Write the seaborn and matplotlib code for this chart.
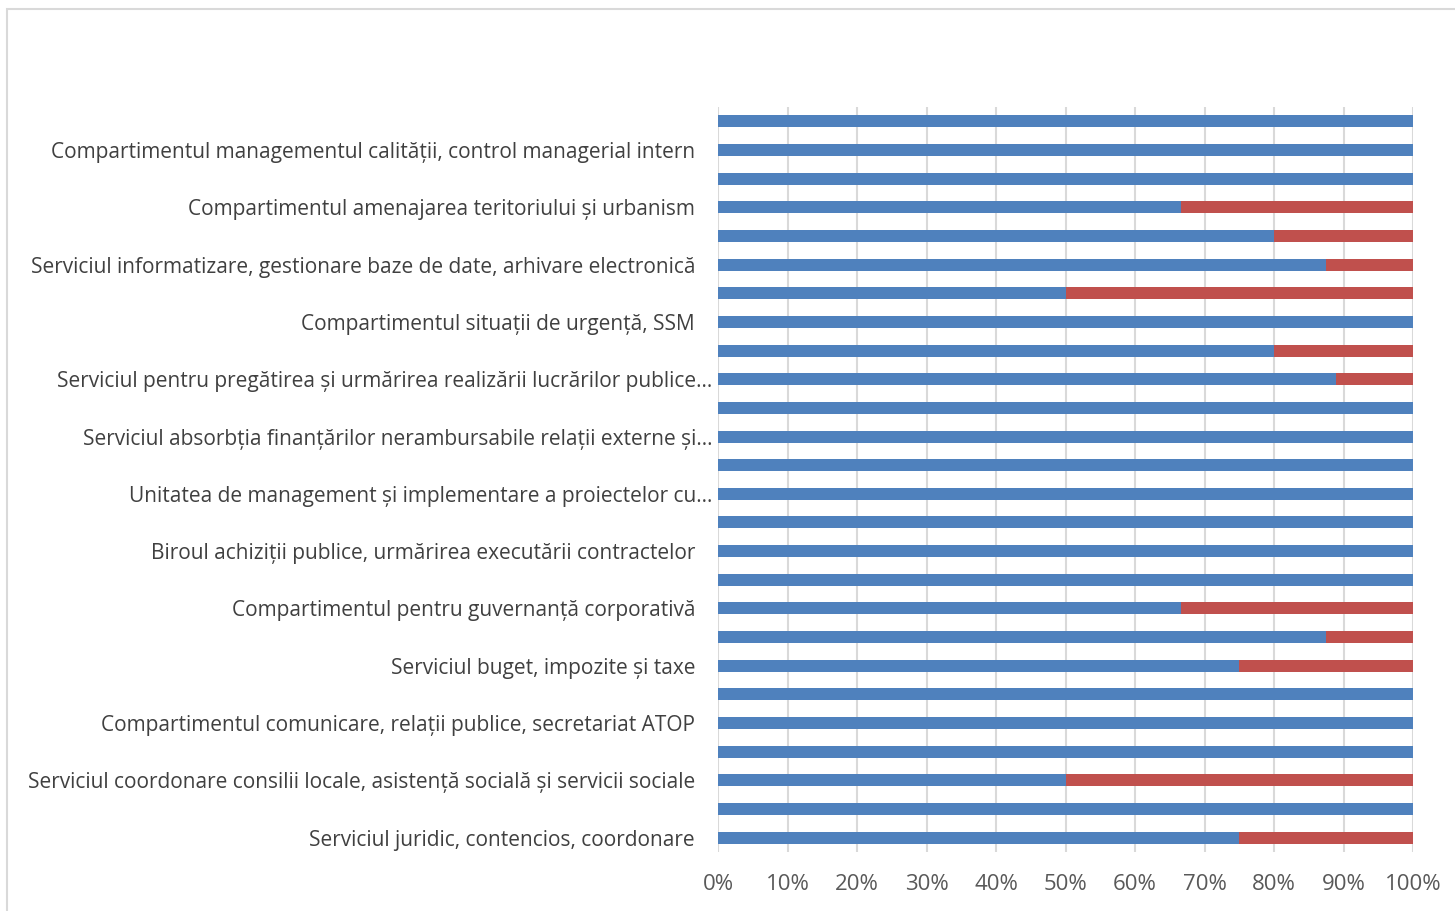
import matplotlib
matplotlib.use("Agg")
import matplotlib.pyplot as plt
import matplotlib.transforms as mtransforms
import seaborn as sns
import pandas as pd
from matplotlib.patches import Rectangle
from matplotlib.ticker import PercentFormatter

# date, de sus in jos
etichete = [
    "",
    "Compartimentul managementul calității, control managerial intern",
    "",
    "Compartimentul amenajarea teritoriului și urbanism",
    "",
    "Serviciul informatizare, gestionare baze de date, arhivare electronică",
    "",
    "Compartimentul situații de urgență, SSM",
    "",
    "Serviciul pentru pregătirea și urmărirea realizării lucrărilor publice…",
    "",
    "Serviciul absorbția finanțărilor nerambursabile relații externe și…",
    "",
    "Unitatea de management și implementare a proiectelor cu…",
    "",
    "Biroul achiziții publice, urmărirea executării contractelor",
    "",
    "Compartimentul pentru guvernanță corporativă",
    "",
    "Serviciul buget, impozite și taxe",
    "",
    "Compartimentul comunicare, relații publice, secretariat ATOP",
    "",
    "Serviciul coordonare consilii locale, asistență socială și servicii sociale",
    "",
    "Serviciul juridic, contencios, coordonare",
]
serie_albastra = [100, 100, 100, 66.67, 80, 87.5, 50, 100, 80, 88.9, 100, 100, 100,
                  100, 100, 100, 100, 66.67, 87.5, 75, 100, 100, 100, 50, 100, 75]
serie_rosie = [100 - v for v in serie_albastra]

df = pd.DataFrame({
    "cat": [str(i) for i in range(len(etichete))],
    "albastru": serie_albastra,
    "rosu": serie_rosie,
})
df["total"] = df["albastru"] + df["rosu"]

sns.set_style("white")
plt.rcParams["font.family"] = ["Open Sans", "DejaVu Sans"]

fig = plt.figure(figsize=(14.55, 9.11), dpi=100)
ax = fig.add_axes([718 / 1455, 1 - 852 / 911, 695 / 1455, 745 / 911])

sns.barplot(data=df, y="cat", x="total", color="#C0504D", width=0.42,
            saturation=1, edgecolor="none", ax=ax, orient="h")
sns.barplot(data=df, y="cat", x="albastru", color="#4F81BD", width=0.42,
            saturation=1, edgecolor="none", ax=ax, orient="h")

ax.set_xlim(0, 100)
ax.set_ylim(len(etichete) - 0.5, -0.5)
ax.set_xticks(range(0, 101, 10))
ax.xaxis.set_major_formatter(PercentFormatter(decimals=0))
ax.set_yticks(range(len(etichete)))
ax.set_yticklabels(etichete)
ax.set_xlabel("")
ax.set_ylabel("")
ax.grid(axis="x", color="#D9D9D9", linewidth=1.5)
ax.set_axisbelow(True)
for s in ax.spines.values():
    s.set_visible(False)
ax.tick_params(axis="y", length=0, pad=16.5, labelsize=15, labelcolor="#404040")
ax.tick_params(axis="x", length=0, pad=16, labelsize=16, labelcolor="#595959")

# etichetele trunchiate ies putin mai la dreapta, ca in Excel
deplasare = mtransforms.ScaledTranslation(17 / 100, 0, fig.dpi_scale_trans)
for t in ax.get_yticklabels():
    if t.get_text().endswith("…"):
        t.set_transform(t.get_transform() + deplasare)

fig.patches.append(Rectangle((7 / 1455, -0.05), 1.1, 1 - 9 / 911 + 0.05,
                             transform=fig.transFigure, fill=False,
                             edgecolor="#D9D9D9", linewidth=1.5))

fig.savefig("out.png", dpi=100)
